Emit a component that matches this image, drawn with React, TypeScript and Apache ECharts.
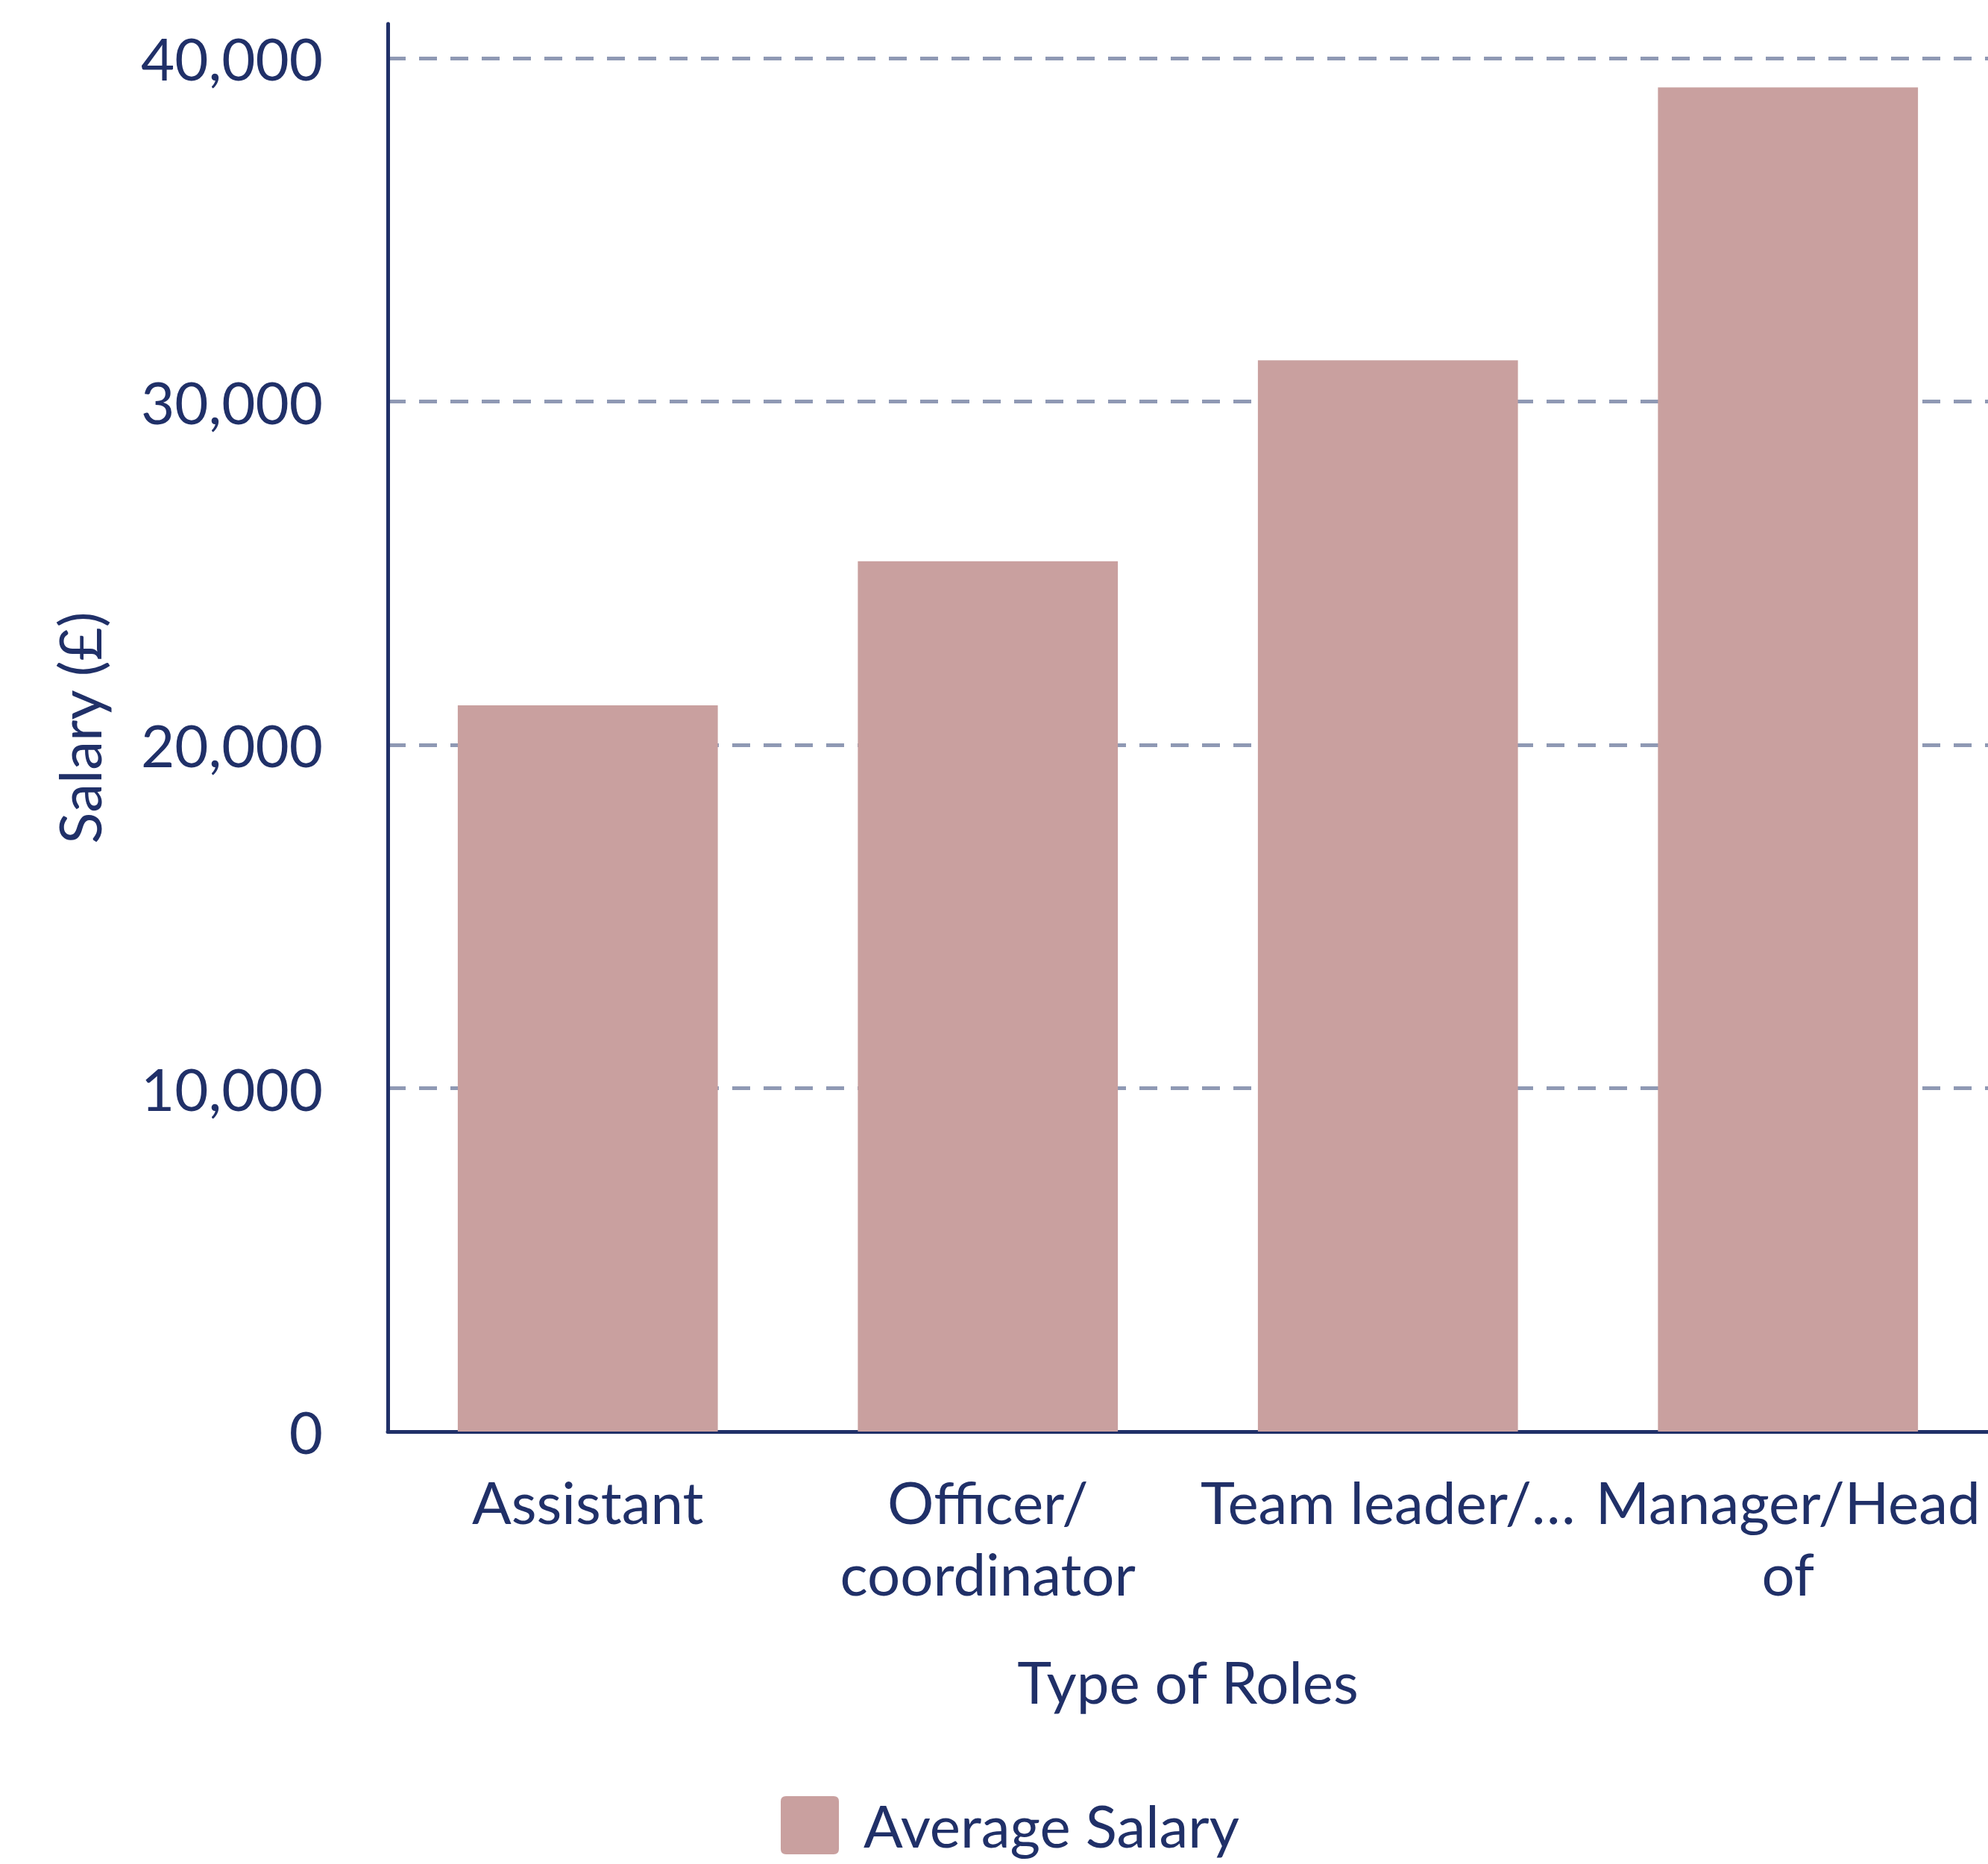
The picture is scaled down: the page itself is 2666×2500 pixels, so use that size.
import React, { useEffect, useRef } from "react";
import * as echarts from "echarts";

const categories = ["Assistant", "Officer/\ncoordinator", "Team leader/…", "Manager/Head\nof"];
const averageSalary = [21150, 25350, 31200, 39150];
const seriesName = "Average Salary";
const yAxisName = "Salary (£)";
const xAxisName = "Type of Roles";

const NAVY = "#203068";
const BAR = "#c9a09f";
const GRID = "#8f99b4";
const FONT = "Lato";

export default function App() {
  const ref = useRef<HTMLDivElement>(null);
  useEffect(() => {
    document.body.style.margin = "0";
    const chart = echarts.init(ref.current!, null, { renderer: "svg" });
    chart.setOption({
      animation: false,
      textStyle: { fontFamily: FONT },
      grid: { left: 520, right: 0, top: 32, bottom: 2500 - 1920, containLabel: false },
      legend: {
        left: 1042,
        top: 2404,
        itemWidth: 78,
        itemHeight: 78,
        icon: "path://M7,0 H71 Q78,0 78,7 V71 Q78,78 71,78 H7 Q0,78 0,71 V7 Q0,0 7,0 Z",
        textStyle: { fontFamily: FONT, fontSize: 78, color: NAVY, padding: [0, 0, 0, 28] },
        data: [seriesName],
      },
      xAxis: {
        type: "category",
        data: categories,
        name: xAxisName,
        nameLocation: "middle",
        nameGap: 296,
        nameTextStyle: { fontFamily: FONT, fontSize: 78, color: NAVY },
        axisLine: { show: true, lineStyle: { color: NAVY, width: 5 } },
        axisTick: { show: false },
        axisLabel: {
          interval: 0,
          margin: 46,
          fontFamily: FONT,
          fontSize: 78,
          lineHeight: 96,
          color: NAVY,
        },
      },
      yAxis: {
        type: "value",
        min: 0,
        max: 41000,
        interval: 10000,
        name: yAxisName,
        nameLocation: "middle",
        nameGap: 375,
        nameTextStyle: { fontFamily: FONT, fontSize: 78, color: NAVY },
        axisLine: { show: true, lineStyle: { color: NAVY, width: 5 } },
        axisTick: { show: false },
        axisLabel: {
          margin: 87,
          fontFamily: FONT,
          fontSize: 78,
          color: NAVY,
          showMaxLabel: false,
          formatter: (v: number) => (v % 10000 === 0 ? v.toLocaleString("en-US") : ""),
        },
        splitLine: {
          show: true,
          showMinLine: false,
          showMaxLine: false,
          lineStyle: { color: GRID, width: 5, type: [24, 18] },
        },
      },
      series: [
        {
          name: seriesName,
          type: "bar",
          data: averageSalary,
          barWidth: "65%",
          itemStyle: { color: BAR },
        },
      ],
    });
    return () => chart.dispose();
  }, []);
  return <div ref={ref} style={{ width: 2666, height: 2500 }} />;
}
